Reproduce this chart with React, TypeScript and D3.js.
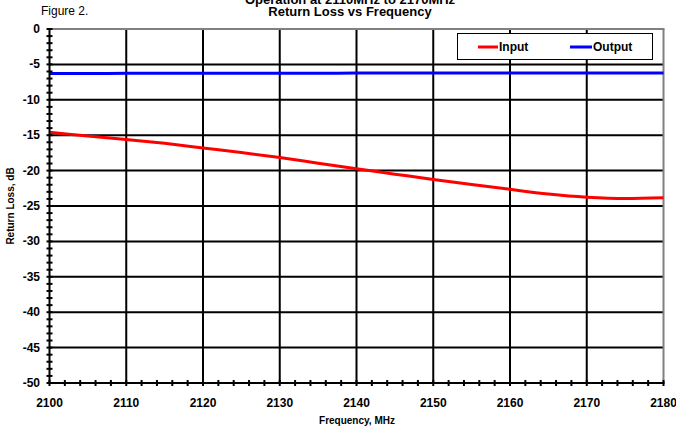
import React from "react";
import * as d3 from "d3";

// Frequency sweep, MHz
const freqs = [2100, 2105, 2110, 2115, 2120, 2125, 2130, 2135, 2140, 2145, 2150, 2155, 2160, 2165, 2170, 2175, 2180];
// Return loss of the input port, dB
const inputLoss = [-14.6, -15.1, -15.6, -16.15, -16.8, -17.45, -18.15, -18.95, -19.75, -20.5, -21.25, -21.95, -22.65, -23.3, -23.75, -23.95, -23.85];
// Return loss of the output port, dB
const outputLoss = [-6.3, -6.28, -6.26, -6.25, -6.25, -6.24, -6.24, -6.24, -6.23, -6.23, -6.23, -6.23, -6.23, -6.22, -6.22, -6.22, -6.22];

const xTicks = [2100, 2110, 2120, 2130, 2140, 2150, 2160, 2170, 2180];
const yTicks = [0, -5, -10, -15, -20, -25, -30, -35, -40, -45, -50];

const W = 676;
const H = 430;
const left = 49.5;
const right = 663.5;
const top = 29;
const bottom = 383;
const FONT = "'Liberation Sans', Arial, sans-serif";

export default function App() {
  const x = d3.scaleLinear().domain([2100, 2180]).range([left, right]);
  const y = d3.scaleLinear().domain([-50, 0]).range([bottom, top]);

  const line = d3
    .line<number>()
    .x((_, i) => x(freqs[i]))
    .y((d) => y(d))
    .curve(d3.curveMonotoneX);

  const minorY = d3.range(-50, 0.001, 1);
  const minorX = d3.range(2100, 2180.001, 2);

  return (
    <svg
      width={W}
      height={H}
      style={{ position: "absolute", left: 0, top: 0, background: "#fff" }}
      fontFamily={FONT}
    >
      {/* titles */}
      <text x={350} y={4} textAnchor="middle" fontSize={13} fontWeight="bold">
        Operation at 2110MHz to 2170MHz
      </text>
      <text x={350} y={16} textAnchor="middle" fontSize={13} fontWeight="bold">
        Return Loss vs Frequency
      </text>
      <text x={41} y={15} fontSize={12}>
        Figure 2.
      </text>

      {/* horizontal grid */}
      {yTicks
        .filter((t) => t !== 0 && t !== -50)
        .map((t) => (
          <line key={"hy" + t} x1={left} x2={right} y1={y(t)} y2={y(t)} stroke="#000" strokeWidth={2} />
        ))}
      {/* vertical grid */}
      {xTicks
        .filter((t) => t !== 2100 && t !== 2180)
        .map((t) => (
          <line key={"vx" + t} x1={x(t)} x2={x(t)} y1={top} y2={bottom} stroke="#000" strokeWidth={2} />
        ))}

      {/* frame top/right */}
      <line x1={left} x2={right + 1} y1={top} y2={top} stroke="#808080" strokeWidth={2} />
      <line x1={right} x2={right} y1={top} y2={bottom} stroke="#808080" strokeWidth={2} />

      {/* series */}
      <path d={line(outputLoss) ?? ""} fill="none" stroke="#0000ff" strokeWidth={3} />
      <path d={line(inputLoss) ?? ""} fill="none" stroke="#ff0000" strokeWidth={3} />

      {/* axes */}
      <line x1={left} x2={left} y1={top - 1} y2={bottom + 1} stroke="#000" strokeWidth={2} />
      <line x1={left - 1} x2={right + 1} y1={bottom} y2={bottom} stroke="#000" strokeWidth={2} />
      {minorY.map((t) => (
        <line key={"ty" + t} x1={left - 3} x2={left + 3} y1={y(t)} y2={y(t)} stroke="#000" strokeWidth={2} />
      ))}
      {minorX.map((t) => (
        <line key={"tx" + t} x1={x(t)} x2={x(t)} y1={bottom - 3} y2={bottom + 3} stroke="#000" strokeWidth={2} />
      ))}

      {/* tick labels */}
      {yTicks.map((t) => (
        <text key={"ly" + t} x={40} y={y(t) + 4} textAnchor="end" fontSize={12} fontWeight="bold">
          {t}
        </text>
      ))}
      {xTicks.map((t) => (
        <text key={"lx" + t} x={x(t)} y={407} textAnchor="middle" fontSize={12} fontWeight="bold">
          {t}
        </text>
      ))}

      {/* axis titles */}
      <text x={357} y={424} textAnchor="middle" fontSize={10} fontWeight="bold">
        Frequency, MHz
      </text>
      <text
        transform={`translate(14,${(top + bottom) / 2}) rotate(-90)`}
        textAnchor="middle"
        fontSize={10}
        fontWeight="bold"
      >
        Return Loss, dB
      </text>

      {/* legend */}
      <rect x={457.5} y={33.5} width={195} height={26} fill="#fff" stroke="#000" strokeWidth={1} />
      <line x1={478} x2={498} y1={47} y2={47} stroke="#ff0000" strokeWidth={3} />
      <text x={499} y={51} fontSize={12} fontWeight="bold">
        Input
      </text>
      <line x1={570} x2={592} y1={47} y2={47} stroke="#0000ff" strokeWidth={3} />
      <text x={593} y={51} fontSize={12} fontWeight="bold">
        Output
      </text>
    </svg>
  );
}
